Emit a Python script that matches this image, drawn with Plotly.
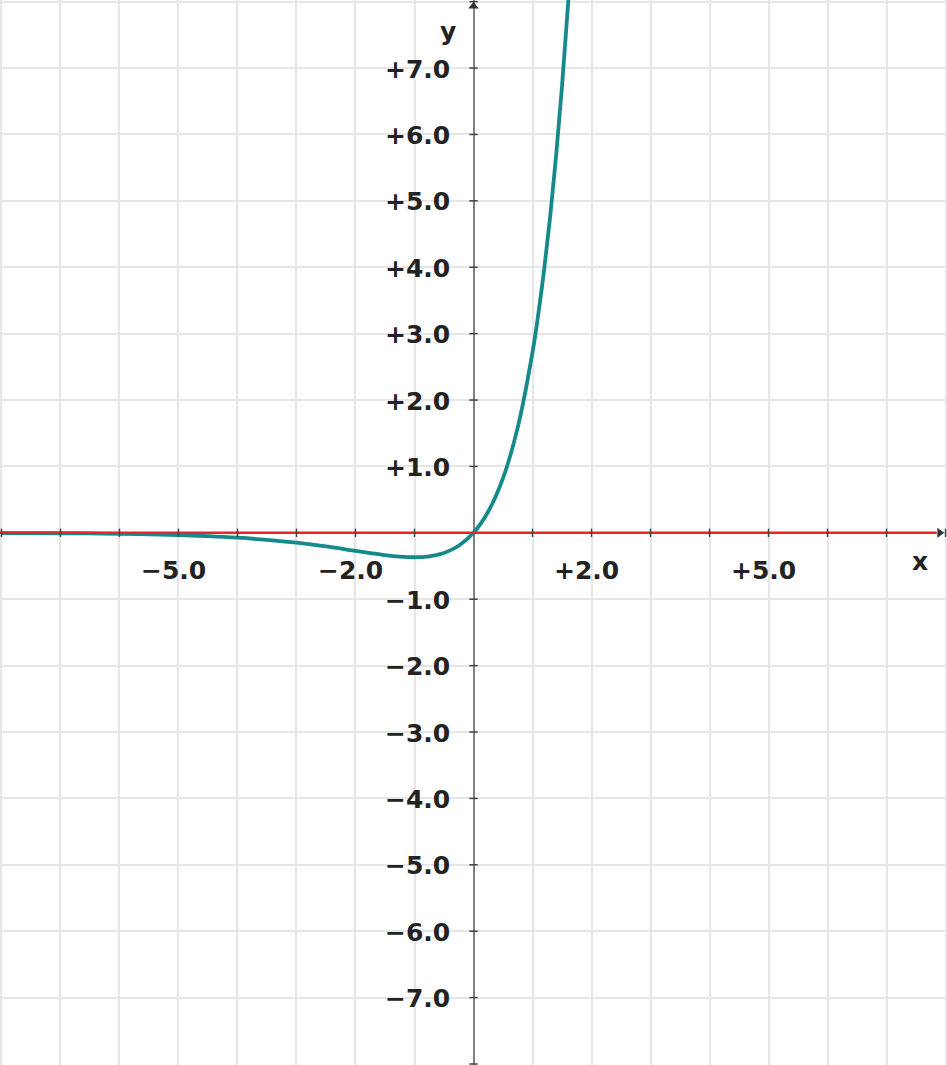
import plotly.graph_objects as go

# curve points (x, y)
curve_x = [-8.0, -7.0, -6.0, -5.0, -4.5, -4.0, -3.5, -3.0, -2.5, -2.0, -1.75, -1.5,
           -1.25, -1.0, -0.75, -0.5, -0.25, 0.0, 0.25, 0.5, 0.75, 1.0, 1.1, 1.2,
           1.3, 1.4, 1.5, 1.6, 1.7]
curve_y = [-0.003, -0.006, -0.015, -0.034, -0.05, -0.073, -0.106, -0.149, -0.205,
           -0.271, -0.304, -0.335, -0.358, -0.368, -0.354, -0.303, -0.195, 0.0,
           0.321, 0.824, 1.588, 2.718, 3.305, 3.984, 4.768, 5.678, 6.723, 7.924, 9.305]

# axis tick labels
x_ticks = [-5, -2, 2, 5]
x_labels = ["\u22125.0", "\u22122.0", "+2.0", "+5.0"]
y_ticks = [7, 6, 5, 4, 3, 2, 1, -1, -2, -3, -4, -5, -6, -7]
y_labels = ["+7.0", "+6.0", "+5.0", "+4.0", "+3.0", "+2.0", "+1.0",
            "\u22121.0", "\u22122.0", "\u22123.0", "\u22124.0", "\u22125.0", "\u22126.0", "\u22127.0"]
grid_steps = list(range(-8, 9))

teal = "#16898a"
red = "#e8232b"
font = dict(family="DejaVu Sans", size=25, color="#222222", weight="bold")

fig = go.Figure()

fig.add_trace(go.Scatter(x=curve_x, y=curve_y, mode="lines",
                         line=dict(color=teal, width=3.8, shape="spline"),
                         hoverinfo="skip"))
# the red y = 0 line
fig.add_trace(go.Scatter(x=[-8.1, 7.85], y=[0, 0], mode="lines",
                         line=dict(color=red, width=2.5), hoverinfo="skip"))

# small tick marks on the axes
tx = [v for v in grid_steps if v != 0]
fig.add_trace(go.Scatter(x=tx, y=[0] * len(tx), mode="markers",
                         marker=dict(symbol="line-ns", size=6,
                                     line=dict(color="#444444", width=1.5)),
                         hoverinfo="skip"))
fig.add_trace(go.Scatter(x=[0] * len(tx), y=tx, mode="markers",
                         marker=dict(symbol="line-ew", size=6,
                                     line=dict(color="#444444", width=1.5)),
                         hoverinfo="skip"))
# arrow heads
fig.add_trace(go.Scatter(x=[0], y=[7.93], mode="markers",
                         marker=dict(symbol="triangle-up", size=9, color="#333333"),
                         hoverinfo="skip"))
fig.add_trace(go.Scatter(x=[7.9], y=[0], mode="markers",
                         marker=dict(symbol="triangle-right", size=9, color="#333333"),
                         hoverinfo="skip"))

for v, t in zip(x_ticks, x_labels):
    fig.add_annotation(x=v, y=0, text=t, showarrow=False, xanchor="center",
                       yanchor="middle", xshift=-5, yshift=-38, font=font)
for v, t in zip(y_ticks, y_labels):
    fig.add_annotation(x=0, y=v, text=t, showarrow=False, xanchor="right",
                       yanchor="middle", xshift=-22, yshift=-1, font=font)

fig.add_annotation(x=0, y=0, text="x", showarrow=False, xanchor="center",
                   yanchor="middle", xshift=446, yshift=-29, font=font)
fig.add_annotation(x=0, y=0, text="y", showarrow=False, xanchor="center",
                   yanchor="middle", xshift=-26, yshift=501, font=font)

fig.update_xaxes(range=[-8.025, 8.025], tickvals=grid_steps, showticklabels=False,
                 showgrid=True, gridcolor="#e6e6e6", gridwidth=1.5,
                 zeroline=True, zerolinecolor="#808080", zerolinewidth=1.5,
                 fixedrange=True)
fig.update_yaxes(range=[-8.015, 8.025], tickvals=grid_steps, showticklabels=False,
                 showgrid=True, gridcolor="#e6e6e6", gridwidth=1.5,
                 zeroline=False, fixedrange=True)

fig.update_layout(width=947, height=1065, margin=dict(l=0, r=0, t=0, b=0),
                  plot_bgcolor="white", paper_bgcolor="white", showlegend=False)

fig.write_html("out.html", config={"displayModeBar": False},
               post_script="document.body.style.margin='0';")
